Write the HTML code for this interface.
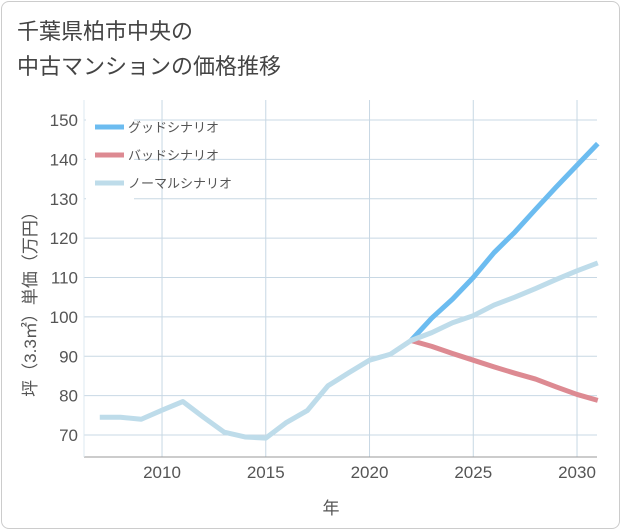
<!DOCTYPE html>
<html><head><meta charset="utf-8"><style>
body{margin:0;background:#fff;font-family:"Liberation Sans","Noto Sans CJK JP",sans-serif;}
#frame{position:absolute;left:1px;top:1px;width:617px;height:526px;border:1px solid #ccc;border-radius:8px;}
#title{position:absolute;left:17px;top:14px;font-size:22px;line-height:35px;color:#444;}
</style></head><body>
<div id="frame"></div>
<div id="title">千葉県柏市中央の<br>中古マンションの価格推移</div>
<svg id="chart" width="621" height="530" style="position:absolute;left:0;top:0"></svg>
<script>
const years=[2007,2008,2009,2010,2011,2012,2013,2014,2015,2016,2017,2018,2019,2020,2021,2022,2023,2024,2025,2026,2027,2028,2029,2030,2031];
const normal=[74.5,74.5,74,76.3,78.5,74.5,70.7,69.5,69.2,73.2,76.2,82.5,85.8,89,90.5,94,96,98.5,100.3,103,105,107.2,109.5,111.7,113.7];
const goodYears=[2022,2023,2024,2025,2026,2027,2028,2029,2030,2031];
const good=[94,99.7,104.5,110,116.3,121.5,127.3,133,138.5,144];
const bad=[94,92.5,90.7,89,87.3,85.7,84.2,82.2,80.3,78.8];
const xTicks=[2010,2015,2020,2025,2030];
const yTicks=[70,80,90,100,110,120,130,140,150];
const L=84,R=597,T=100,B=457;
const x=v=>L+(v-2006.24)*20.75;
const y=v=>120+(150-v)*3.9375;
const svg=document.getElementById('chart');
const NS='http://www.w3.org/2000/svg';
function mk(t,a,p){const e=document.createElementNS(NS,t);for(const k in a)e.setAttribute(k,a[k]);(p||svg).appendChild(e);return e;}
for(const v of yTicks){
 const g=mk('line',{x1:L,x2:R,y1:y(v),y2:y(v),stroke:'#c8d8e4','stroke-width':1});
 
 
 const t=mk('text',{x:78,y:y(v)+6,'text-anchor':'end','font-size':17,fill:'#555'});t.textContent=v;
 
 
}
for(let yr=2007;yr<=2031;yr++){
 if(xTicks.includes(yr))continue;
}
for(const v of xTicks){
 const g=mk('line',{x1:x(v),x2:x(v),y1:T,y2:B,stroke:'#c8d8e4','stroke-width':1});
 
 
 const t=mk('text',{x:x(v),y:478,'text-anchor':'middle','font-size':17,fill:'#555'});t.textContent=v;
 
 
}
const ax=mk('line',{x1:L,x2:R,y1:B,y2:B,stroke:'#999','stroke-width':1});


const ax2=mk('line',{x1:L,x2:L,y1:T,y2:B,stroke:'#dde8f0','stroke-width':1});


function line(xs,vs,c,name){
 const p=mk('polyline',{points:xs.map((yr,i)=>x(yr)+','+y(vs[i])).join(' '),fill:'none',stroke:c,'stroke-width':5,'stroke-linejoin':'round'});
 
 
}
line(goodYears,bad,'#dd8a92','bad-scenario-line');
line(goodYears,good,'#6cbcf0','good-scenario-line');
line(years,normal,'#bedcea','normal-scenario-line');
const lg=mk('rect',{x:86,y:110,width:48,height:90,fill:'#fff'});


const leg=[['グッドシナリオ','#6cbcf0'],['バッドシナリオ','#dd8a92'],['ノーマルシナリオ','#bedcea']];
leg.forEach((d,i)=>{
 const yy=127+i*28;
 const l=mk('line',{x1:95,x2:124,y1:yy,y2:yy,stroke:d[1],'stroke-width':5});
 
 
 const t=mk('text',{x:128,y:yy+5,'font-size':13,fill:'#555'});t.textContent=d[0];
 
 
});
const xt=mk('text',{x:331,y:514,'text-anchor':'middle','font-size':17,fill:'#555'});xt.textContent='年';


const yt=mk('text',{x:0,y:0,'text-anchor':'middle','font-size':17,fill:'#555',transform:'translate(36,300) rotate(-90)'});yt.textContent='坪（3.3㎡）単価（万円）';


</script>
</body></html>
